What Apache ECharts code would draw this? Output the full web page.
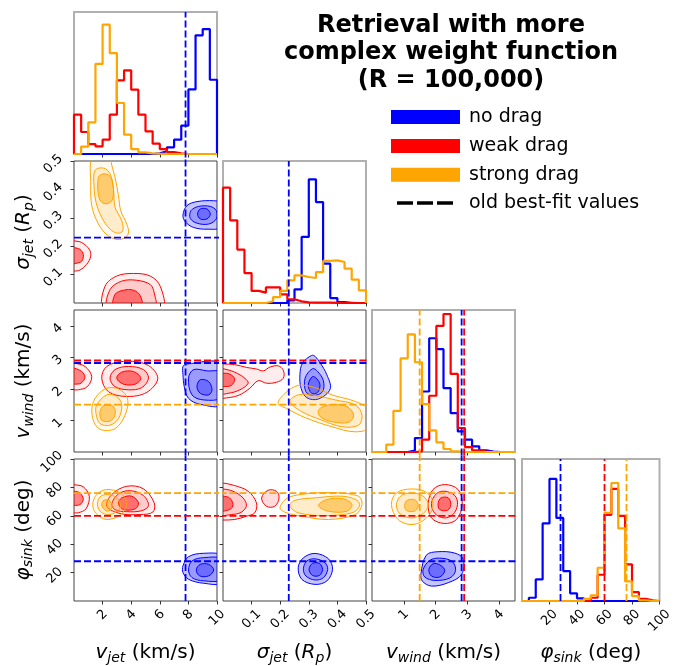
<!DOCTYPE html>
<html><head><meta charset="utf-8">
<script src="https://cdn.jsdelivr.net/npm/echarts@6/dist/echarts.min.js"></script>
<style>html,body{margin:0;padding:0;background:#fff}#c{width:675px;height:666px}</style>
</head><body><div id="c"></div>
<script>
// ================= DATA =================
const groupNames = ['no drag', 'weak drag', 'strong drag'];
const groupColors = ['#0000ff', '#ff0000', '#ffa500'];
const groupRGB = ['0,0,255', '255,0,0', '255,165,0'];

const titleText = 'Retrieval with more\ncomplex weight function\n(R = 100,000)';
const legendOldText = 'old best-fit values';

// parameter ranges and tick labels
const vjetRange = [0, 10];
const sigmaRange = [0, 0.5];
const vwindRange = [0, 4.5];
const phiRange = [0, 100];
const vjetTicks = [2, 4, 6, 8, 10];
const sigmaTicks = [0.1, 0.2, 0.3, 0.4, 0.5];
const vwindTicks = [1, 2, 3, 4];
const phiTicks = [20, 40, 60, 80, 100];

// 1D histograms (20 bins across each range), relative height in % ; order blue, red, orange
const histVjetBlue   = [0,0,0,0,0,0,0,0,0,0,0,0.5,1.9,4.7,10.1,20.0,45.5,83.6,88.0,52.3];
const histVjetRed    = [27.7,15.5,7.0,5.4,10.1,27.7,51.9,58.9,45.3,27.7,16.0,7.3,3.5,1.4,0.5,0,0,0,0,0];
const histVjetOrange = [0,5.2,22.3,63.4,91.1,71.1,35.9,13.6,3.5,1.2,0.5,0.2,0,0,0,0,0,0,0,0];

const histSigmaBlue   = [0,0,0,0,0,0,0,0,0,1.9,9.6,46.5,87.1,71.1,27.7,3.5,0.7,0,0,0];
const histSigmaRed    = [81.2,58.2,37.6,21.1,8.5,7.3,11.0,11.0,6.1,2.6,1.2,0.5,0.3,0.2,0.2,0.1,0.1,0.1,0,0];
const histSigmaOrange = [0,0,0,0,0,0,1.2,4.2,8.5,16.0,19.5,18.3,17.6,21.8,29.6,30.0,28.9,24.2,16.4,8.9];

const histVwindBlue   = [0,0,0,0,0,1.0,9.8,42.6,80.1,72.4,45.0,27.4,14.5,8.7,4.0,1.2,0.3,0,0,0];
const histVwindRed    = [0,0,0,0,0,0,0.5,8.7,39.6,88.8,97.2,55.0,16.9,3.5,1.2,0.3,0,0,0,0];
const histVwindOrange = [0,0,5.2,29.0,66.0,82.9,63.2,33.7,15.2,6.8,2.1,0.5,0,0,0,0,0,0,0,0];

const histPhiBlue   = [0,2.3,15.2,54.6,86.0,58.5,21.1,5.4,1.9,0,0,0,0,0,0,0,0,0,0,0];
const histPhiRed    = [0,0,0,0,0,0,0,0,0,0,2.3,18.5,60.7,78.9,60.0,25.8,6.3,1.6,0.5,0];
const histPhiOrange = [0,0,0,0,0,0,0,0,0,1.6,4.0,23.4,62.1,83.1,51.1,13.8,3.5,0.5,0,0];

// old best-fit values [blue, red, orange] (null = none)
const oldVjet  = [7.8, null, null];
const oldSigma = [0.23, null, null];
const oldVwind = [2.82, 2.9, 1.5];
const oldPhi   = [28, 60, 76];

// 2D credible contours: [outer, mid, inner] polygons in data units (x, y)
// sigma_jet vs v_jet
const sigVjetBlue = [
  [[7.62,0.310],[7.90,0.343],[8.60,0.357],[9.77,0.360],[10.3,0.352],[10.3,0.268],[9.30,0.260],[8.36,0.266],[7.78,0.286]],
  [[8.18,0.325],[8.71,0.340],[9.53,0.340],[9.95,0.325],[9.95,0.296],[9.42,0.278],[8.60,0.281],[8.13,0.298]],
  [[8.64,0.313],[8.83,0.331],[9.30,0.331],[9.53,0.313],[9.30,0.296],[8.83,0.296]]];
const sigVjetRedLeft = [
  [[-0.3,0.222],[0,0.219],[0.54,0.213],[1.07,0.189],[1.17,0.165],[0.89,0.136],[0.42,0.116],[0,0.112],[-0.3,0.11]],
  [[-0.3,0.197],[0,0.195],[0.42,0.189],[0.65,0.171],[0.54,0.147],[0.07,0.139],[-0.3,0.138]]];
const sigVjetRedLow = [
  [[2.06,-0.02],[2.17,0.059],[2.99,0.095],[4.16,0.104],[5.33,0.095],[6.03,0.059],[6.21,-0.02],[4.1,-0.04]],
  [[2.34,-0.02],[2.52,0.047],[3.34,0.077],[4.39,0.080],[5.33,0.065],[5.61,0.035],[5.68,-0.02],[4.0,-0.04]],
  [[2.76,-0.02],[2.87,0.030],[3.46,0.045],[4.16,0.045],[4.63,0.026],[4.74,-0.02],[3.7,-0.04]]];
const sigVjetOrange = [
  [[1.31,0.52],[1.17,0.414],[1.24,0.343],[1.59,0.290],[2.17,0.246],[2.87,0.225],[3.46,0.227],[3.81,0.246],[3.69,0.278],[3.27,0.325],[3.11,0.378],[2.87,0.443],[2.64,0.485],[2.5,0.52]],
  [[1.47,0.467],[1.40,0.414],[1.54,0.355],[1.94,0.301],[2.52,0.260],[3.04,0.246],[3.41,0.254],[3.34,0.290],[2.87,0.337],[2.76,0.402],[2.52,0.455],[2.06,0.475]],
  [[1.71,0.443],[1.78,0.366],[2.24,0.349],[2.71,0.366],[2.64,0.437],[2.17,0.455]]];
// v_wind vs v_jet
const vwVjetBlue = [
  [[7.62,2.71],[7.90,2.79],[10.3,2.79],[10.3,1.51],[8.83,1.51],[8.01,1.70],[7.71,2.07],[7.62,2.45]],
  [[8.01,2.34],[8.36,2.61],[9.30,2.57],[10.3,2.52],[10.3,1.74],[9.06,1.65],[8.25,1.81]],
  [[8.60,2.07],[8.83,2.29],[9.42,2.23],[9.65,1.97],[9.42,1.81],[8.83,1.86]]];
const vwVjetRedLeft = [
  [[-0.3,2.84],[0,2.82],[0.77,2.71],[1.24,2.39],[0.93,2.07],[0.30,1.97],[0,1.97],[-0.3,1.97]],
  [[-0.3,2.68],[0,2.66],[0.54,2.55],[0.77,2.37],[0.49,2.18],[0,2.15],[-0.3,2.15]]];
const vwVjetRed = [
  [[1.94,2.34],[2.29,2.71],[3.46,2.87],[5.09,2.77],[5.86,2.34],[5.09,1.89],[3.69,1.76],[2.41,1.91]],
  [[2.52,2.34],[2.87,2.61],[3.81,2.71],[4.86,2.61],[5.21,2.34],[4.74,2.04],[3.81,1.97],[2.87,2.07]],
  [[2.99,2.34],[3.34,2.53],[4.16,2.55],[4.67,2.34],[4.28,2.15],[3.46,2.15]]];
const vwVjetOrange = [
  [[1.31,1.06],[1.36,1.60],[2.17,2.0],[3.11,2.0],[3.74,1.70],[3.57,1.17],[2.87,0.74],[1.82,0.72]],
  [[1.54,1.22],[1.59,1.49],[2.29,1.81],[2.99,1.76],[3.34,1.49],[3.11,1.06],[2.52,0.85],[1.82,0.90]],
  [[1.82,1.28],[2.10,1.47],[2.76,1.44],[2.87,1.17],[2.52,0.98],[1.94,1.01]]];
// v_wind vs sigma_jet
const vwSigRed = [
  [[-0.02,2.80],[0,2.79],[0.041,2.77],[0.082,2.68],[0.117,2.63],[0.141,2.57],[0.164,2.69],[0.193,2.73],[0.211,2.59],[0.211,2.34],[0.187,2.21],[0.152,2.18],[0.123,2.26],[0.094,2.02],[0.053,1.79],[0,1.70],[-0.02,1.70]],
  [[-0.02,2.65],[0,2.64],[0.041,2.53],[0.076,2.34],[0.088,2.18],[0.059,1.97],[0.018,1.86],[-0.02,1.86]],
  [[-0.02,2.51],[0,2.50],[0.023,2.47],[0.041,2.32],[0.029,2.11],[0,2.07],[-0.02,2.07]]];
const vwSigBlue = [
  [[0.310,3.06],[0.278,2.82],[0.269,2.45],[0.273,2.02],[0.293,1.72],[0.334,1.68],[0.375,2.0],[0.363,2.45],[0.340,2.82],[0.322,3.03]],
  [[0.313,2.64],[0.287,2.34],[0.290,1.91],[0.316,1.79],[0.348,1.91],[0.351,2.26],[0.331,2.55]],
  [[0.313,2.39],[0.298,2.13],[0.310,1.86],[0.331,1.89],[0.339,2.13],[0.328,2.32]]];
const vwSigOrange = [
  [[0.193,1.54],[0.217,1.86],[0.263,2.11],[0.322,2.04],[0.381,1.81],[0.463,1.60],[0.52,1.28],[0.52,0.80],[0.463,0.64],[0.381,0.80],[0.287,1.09],[0.222,1.38]],
  [[0.234,1.60],[0.263,1.81],[0.322,1.79],[0.392,1.65],[0.463,1.49],[0.486,1.17],[0.474,0.85],[0.416,0.80],[0.345,1.01],[0.275,1.28]],
  [[0.334,1.33],[0.369,1.49],[0.433,1.44],[0.457,1.17],[0.439,0.94],[0.381,0.96],[0.340,1.12]]];
// phi_sink vs v_jet
const phiVjetBlue = [
  [[7.62,24.7],[8.01,31.2],[9.07,33.6],[10.3,31.7],[10.3,13.0],[9.07,12.5],[8.01,15.3],[7.62,20.0]],
  [[8.01,21.9],[8.25,28.2],[9.07,30.5],[10.3,29.4],[10.3,15.3],[9.07,14.2],[8.25,16.5]],
  [[8.55,21.9],[8.83,25.8],[9.42,25.8],[9.77,21.9],[9.42,17.7],[8.79,17.7]]];
const phiVjetRedLeft = [
  [[-0.3,82],[0,81.9],[0.65,80.4],[1.07,73.8],[0.84,64.9],[0.30,62.1],[0,62.1],[-0.3,62]],
  [[-0.3,77.3],[0,77.3],[0.42,76.1],[0.65,71.5],[0.42,67.9],[0,67.3],[-0.3,67.3]]];
const phiVjetRed = [
  [[2.29,66.8],[2.64,75.0],[3.69,80.8],[4.86,79.0],[5.61,69.1],[5.51,62.6],[4.63,60.9],[3.22,61.6]],
  [[2.64,68.4],[3.11,75.4],[3.93,77.7],[4.86,74.2],[5.21,67.2],[4.74,63.6],[3.69,62.9],[2.87,64.3]],
  [[3.11,68.6],[3.34,72.6],[4.04,73.8],[4.51,69.1],[4.28,64.9],[3.46,64.4]]];
const phiVjetOrange = [
  [[1.31,68.0],[1.59,75.0],[2.29,78.5],[3.22,76.1],[3.69,69.1],[3.27,60.9],[2.29,57.4],[1.54,61.6]],
  [[1.64,68.0],[1.82,73.3],[2.34,75.0],[3.0,72.6],[3.27,66.8],[2.87,62.1],[2.29,60.9],[1.82,63.3]],
  [[1.94,67.4],[2.10,71.0],[2.52,70.3],[2.64,65.6],[2.29,63.3]]];
// phi_sink vs sigma_jet
const phiSigBlue = [
  [[0.263,23.4],[0.281,30.4],[0.322,33.5],[0.369,29.7],[0.383,22.2],[0.363,14.1],[0.322,11.7],[0.276,15.2]],
  [[0.281,22.7],[0.293,28.1],[0.322,29.7],[0.357,26.9],[0.366,22.2],[0.351,16.4],[0.322,14.8],[0.290,17.6]],
  [[0.301,22.2],[0.313,26.5],[0.337,26.5],[0.348,22.2],[0.337,18.0],[0.313,18.0]]];
const phiSigRed = [
  [[-0.02,83.1],[0,83.1],[0.041,81.3],[0.088,77.3],[0.117,69.1],[0.111,62.1],[0.082,59.7],[0.041,57.4],[0,57.0],[-0.02,57]],
  [[-0.02,78.9],[0,78.9],[0.035,77.3],[0.070,72.6],[0.082,67.2],[0.064,62.5],[0.029,60.9],[-0.02,60.9]],
  [[-0.02,73.8],[0,73.8],[0.023,72.6],[0.035,67.9],[0.023,64.4],[-0.02,63.9]]];
const phiSigRedIsland = [
  [[0.135,72.6],[0.158,78.0],[0.187,77.3],[0.196,72.6],[0.181,66.7],[0.152,66.7]]];
const phiSigOrange = [
  [[0.199,65.6],[0.222,72.1],[0.275,75.1],[0.381,76.3],[0.474,73.8],[0.486,67.9],[0.463,60.9],[0.369,57.4],[0.275,59.7],[0.217,62.5]],
  [[0.234,67.2],[0.252,70.9],[0.322,72.6],[0.416,73.8],[0.468,71.0],[0.477,66.8],[0.451,62.1],[0.357,60.2],[0.263,62.1]],
  [[0.334,67.2],[0.363,71.4],[0.422,71.9],[0.451,67.9],[0.433,63.2],[0.369,63.2]]];
// phi_sink vs v_wind
const phiVwBlue = [
  [[1.54,19.2],[1.71,32.3],[2.08,34.7],[2.61,33.7],[2.87,29.5],[2.82,18.7],[2.40,12.9],[1.87,10.5],[1.58,14.1]],
  [[1.61,22.2],[1.82,28.6],[2.13,30.2],[2.52,27.9],[2.63,21.5],[2.45,16.2],[1.98,14.5],[1.66,16.9]],
  [[1.79,22.2],[1.92,26.2],[2.13,25.5],[2.29,21.5],[2.13,16.9],[1.87,17.6]]];
const phiVwRed = [
  [[1.77,68.6],[1.92,78.5],[2.29,82.0],[2.71,78.5],[2.84,68.0],[2.66,57.4],[2.27,54.6],[1.87,58.5]],
  [[1.87,68.6],[2.03,75.6],[2.29,77.3],[2.61,74.2],[2.69,67.9],[2.55,60.9],[2.27,58.5],[1.98,61.6]],
  [[2.08,68.6],[2.17,72.6],[2.40,72.6],[2.48,67.9],[2.38,63.9],[2.13,64.4]]];
const phiVwOrange = [
  [[0.61,67.9],[0.77,76.1],[1.24,78.9],[1.71,76.6],[1.92,69.1],[1.77,59.7],[1.29,53.9],[0.82,57.4]],
  [[0.77,67.9],[0.90,73.8],[1.24,76.1],[1.61,73.8],[1.77,67.9],[1.61,61.6],[1.24,58.5],[0.87,61.6]],
  [[1.03,67.2],[1.11,71.0],[1.37,71.0],[1.45,66.8],[1.33,63.2],[1.08,63.9]]];

// ================= BUILD =================
const params = [
  {range: vjetRange, ticks: vjetTicks, hist: [histVjetBlue, histVjetRed, histVjetOrange], old: oldVjet,
   label: '{m|v}{s|jet}{n| (km/s)}'},
  {range: sigmaRange, ticks: sigmaTicks, hist: [histSigmaBlue, histSigmaRed, histSigmaOrange], old: oldSigma,
   label: '{m|σ}{s|jet}{n| (}{m|R}{s|p}{n|)}'},
  {range: vwindRange, ticks: vwindTicks, hist: [histVwindBlue, histVwindRed, histVwindOrange], old: oldVwind,
   label: '{m|v}{s|wind}{n| (km/s)}'},
  {range: phiRange, ticks: phiTicks, hist: [histPhiBlue, histPhiRed, histPhiOrange], old: oldPhi,
   label: '{m|φ}{s|sink}{n| (deg)}'}
];
const blobs = {
  '1,0': [[0, sigVjetBlue], [1, sigVjetRedLeft], [1, sigVjetRedLow], [2, sigVjetOrange]],
  '2,0': [[0, vwVjetBlue], [1, vwVjetRedLeft], [1, vwVjetRed], [2, vwVjetOrange]],
  '2,1': [[0, vwSigBlue], [1, vwSigRed], [2, vwSigOrange]],
  '3,0': [[0, phiVjetBlue], [1, phiVjetRedLeft], [1, phiVjetRed], [2, phiVjetOrange]],
  '3,1': [[0, phiSigBlue], [1, phiSigRed], [1, phiSigRedIsland], [2, phiSigOrange]],
  '3,2': [[0, phiVwBlue], [1, phiVwRed], [2, phiVwOrange]]
};

// layout
const colLeft = [74, 223, 372, 522];
const rowTop = [12, 161, 310, 459];
const panelW = 143, panelH = 142;
const GAP_HALF = 3.6; // px: dashed lines continue half-way into the gap between panels
const FONT = 'DejaVu Sans';
const TICK_FS = 13;
const richName = {
  m: {fontFamily: FONT, fontStyle: 'italic', fontSize: 20, lineHeight: 24, color: '#000'},
  s: {fontFamily: FONT, fontStyle: 'italic', fontSize: 14, lineHeight: 14, verticalAlign: 'bottom', color: '#000'},
  n: {fontFamily: FONT, fontSize: 20, lineHeight: 24, color: '#000'}
};
const fillAlpha = [[0.22, 0.22, 0.30], [0.07, 0.14, 0.45], [0.07, 0.14, 0.45]];
const dashStyle = [7, 3];

const grids = [], xAxes = [], yAxes = [], series = [];

// rotated tick labels placed like matplotlib (bbox centred on tick for x, right-aligned for y)
function labelCfg(p, show, isX) {
  const cw = ch => (ch === '.' ? 0.318 : 0.636) * TICK_FS;
  const rich = {};
  const yShift = 4.2; // extra downward nudge of y labels
  p.ticks.forEach((t, idx) => {
    const w = String(t).split('').reduce((s, ch) => s + cw(ch), 0);
    const q = 0.5 * w;
    rich['t' + idx] = {fontSize: TICK_FS, fontFamily: FONT, color: '#000',
      padding: isX ? [q, q, 0, 0] : [yShift, q + yShift, q, 0]};
  });
  return {show, customValues: p.ticks, rotate: 45, align: 'center', verticalAlign: 'middle',
    margin: isX ? 11 : 13.4, fontSize: TICK_FS, fontFamily: FONT, color: '#000',
    formatter: v => '{t' + p.ticks.indexOf(v) + '|' + v + '}', rich};
}
function axisCommon(p, showLabel, isX) {
  return {
    type: 'value', min: p.range[0], max: p.range[1],
    axisLine: {show: false}, splitLine: {show: false},
    axisTick: {show: true, inside: false, length: 3.5, customValues: p.ticks, lineStyle: {color: '#333', width: 1}},
    axisLabel: labelCfg(p, showLabel, isX)
  };
}
function dashSeries(g, data, k) {
  return {type: 'line', xAxisIndex: g, yAxisIndex: g, data, symbol: 'none', clip: false,
    lineStyle: {color: groupColors[k], width: 1.8, type: dashStyle}, z: 4, silent: true};
}

for (let i = 0; i < 4; i++) {
  for (let j = 0; j <= i; j++) {
    const g = grids.length;
    const diag = i === j;
    grids.push({left: colLeft[j], top: rowTop[i], width: panelW, height: panelH, show: true,
      borderColor: diag ? '#b0b0b0' : '#444', borderWidth: diag ? 2 : 1, backgroundColor: 'transparent'});
    const px = params[j], py = params[i];
    const xa = Object.assign({gridIndex: g}, axisCommon(px, i === 3, true));
    if (i === 3) {
      Object.assign(xa, {name: px.label, nameLocation: 'middle', nameGap: 40, nameTextStyle: {rich: richName}});
    }
    xAxes.push(xa);
    // extension of dashed lines into neighbouring gaps (in data units)
    const spanX = px.range[1] - px.range[0];
    const extX = GAP_HALF / panelW * spanX;
    if (diag) {
      yAxes.push({gridIndex: g, type: 'value', min: 0, max: 100, show: false});
      px.hist.forEach((h, k) => {
        const w = spanX / h.length;
        const d = [[px.range[0], 0]];
        h.forEach((c, b) => d.push([px.range[0] + b * w, c]));
        d.push([px.range[1], h[h.length - 1]]);
        d.push([px.range[1], 0]);
        series.push({type: 'line', xAxisIndex: g, yAxisIndex: g, data: d, step: 'end', symbol: 'none',
          lineStyle: {color: groupColors[k], width: 2.2}, z: 3, silent: true});
      });
      const extDown = i < 3 ? GAP_HALF / panelH * 100 : 0;
      px.old.forEach((v, k) => {
        if (v === null) return;
        series.push(dashSeries(g, [[v, -extDown], [v, 100]], k));
      });
    } else {
      const ya = Object.assign({gridIndex: g}, axisCommon(py, j === 0, false));
      if (j === 0) {
        Object.assign(ya, {name: py.label, nameLocation: 'middle', nameGap: 38, nameRotate: 90, nameTextStyle: {rich: richName}});
      }
      yAxes.push(ya);
      const spanY = py.range[1] - py.range[0];
      const extY = GAP_HALF / panelH * spanY;
      const polys = [];
      blobs[i + ',' + j].forEach(([k, levels]) => {
        const alphas = levels.length === 3 ? fillAlpha[k] : (levels.length === 2 ? [fillAlpha[k][0], fillAlpha[k][2]] : [fillAlpha[k][1]]);
        levels.forEach((pts, l) => polys.push({pts, fill: 'rgba(' + groupRGB[k] + ',' + alphas[l] + ')', stroke: groupColors[k]}));
      });
      series.push({type: 'custom', xAxisIndex: g, yAxisIndex: g, clip: true, silent: true, z: 2,
        data: polys.map(p => p.pts[0]),
        renderItem: (params, api) => {
          const p = polys[params.dataIndex];
          return {type: 'polygon', shape: {points: p.pts.map(q => api.coord(q)), smooth: 0.35},
            style: {fill: p.fill, stroke: p.stroke, lineWidth: 1}};
        }});
      const yLo = py.range[0] - (i < 3 ? extY : 0), yHi = py.range[1] + extY;
      px.old.forEach((v, k) => {
        if (v === null) return;
        series.push(dashSeries(g, [[v, yLo], [v, yHi]], k));
      });
      const xLo = px.range[0] - (j > 0 ? extX : 0), xHi = px.range[1] + extX;
      py.old.forEach((v, k) => {
        if (v === null) return;
        series.push(dashSeries(g, [[xLo, v], [xHi, v]], k));
      });
    }
  }
}

const graphic = [
  {type: 'text', x: 451, y: 12, style: {text: titleText, font: 'bold 24px "DejaVu Sans"', align: 'center', verticalAlign: 'top', lineHeight: 27.5, fill: '#000'}}
];
const legendY = [117, 146, 174.7];
groupNames.forEach((nm, k) => {
  graphic.push({type: 'rect', shape: {x: 391, y: legendY[k] - 7, width: 69, height: 14}, style: {fill: groupColors[k]}});
  graphic.push({type: 'text', x: 469, y: legendY[k], style: {text: nm, font: '19px "DejaVu Sans"', verticalAlign: 'middle', fill: '#000'}});
});
graphic.push({type: 'line', shape: {x1: 397, y1: 203, x2: 453, y2: 203}, style: {stroke: '#000', lineWidth: 3.5, lineDash: [16, 4]}});
graphic.push({type: 'text', x: 469, y: 203, style: {text: legendOldText, font: '19px "DejaVu Sans"', verticalAlign: 'middle', fill: '#000'}});

const chart = echarts.init(document.getElementById('c'), null, {renderer: 'canvas'});
chart.setOption({animation: false, backgroundColor: '#fff', grid: grids, xAxis: xAxes, yAxis: yAxes, series, graphic});
</script></body></html>
